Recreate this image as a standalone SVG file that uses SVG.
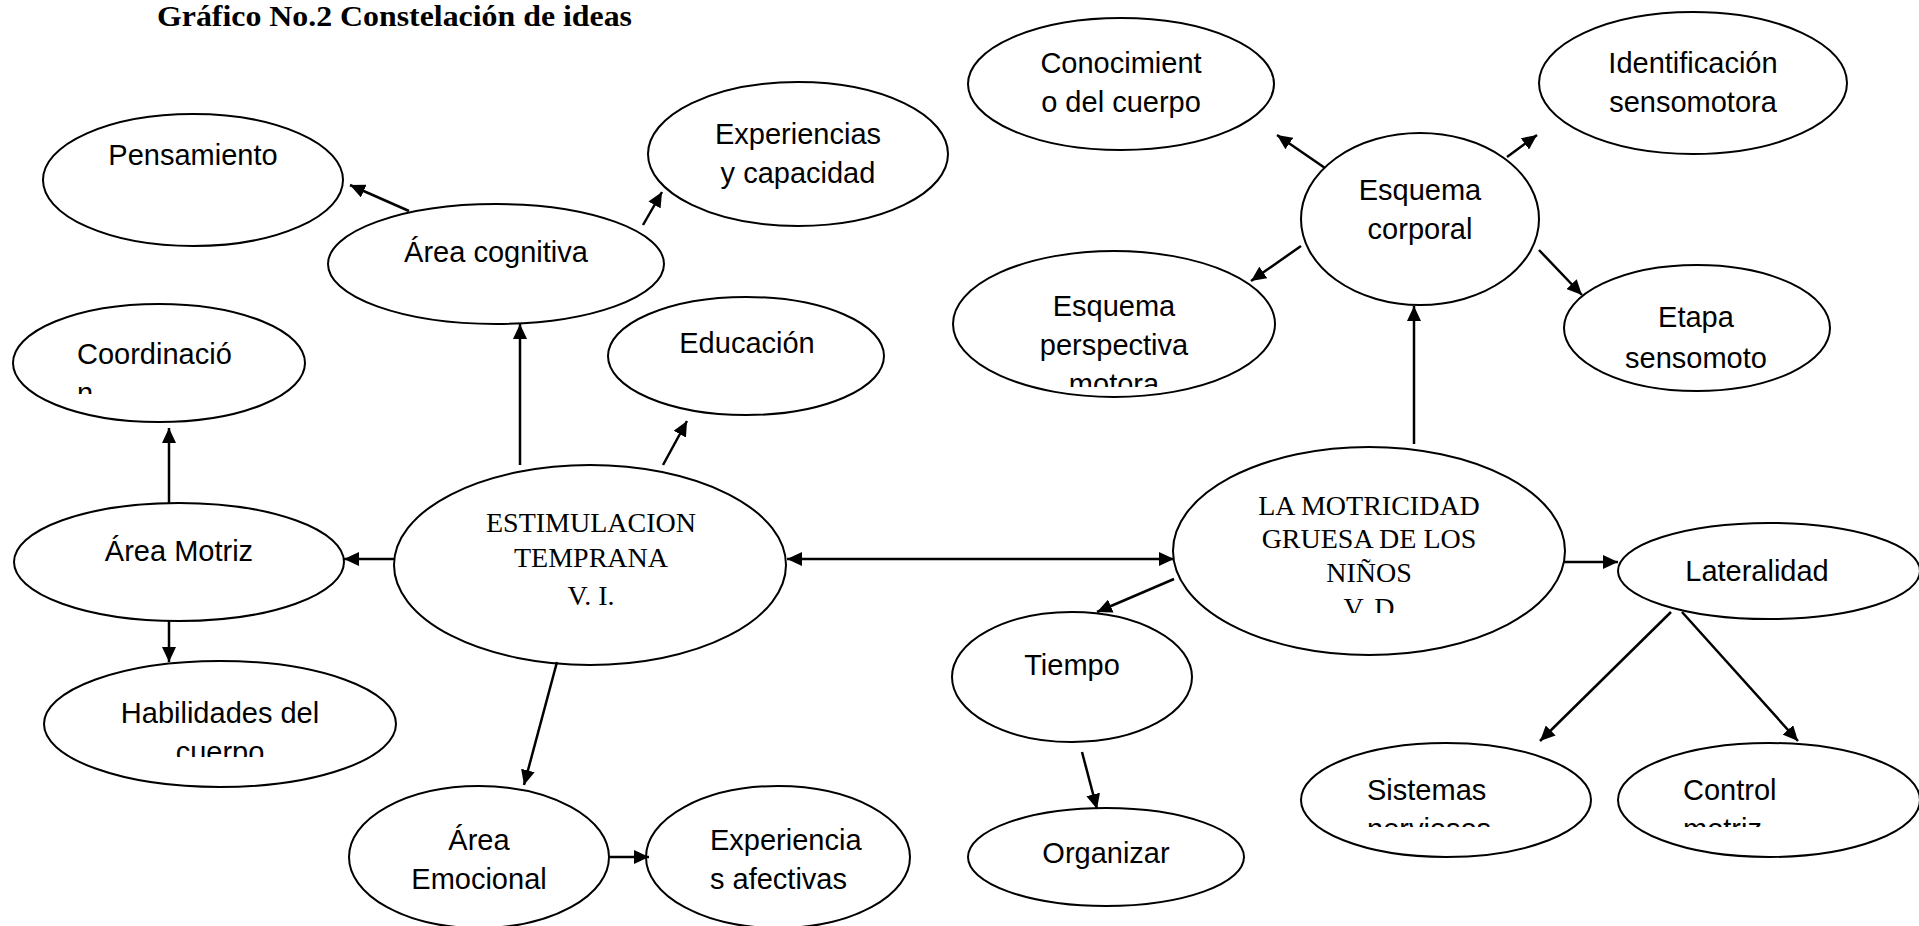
<svg xmlns="http://www.w3.org/2000/svg" width="1919" height="926" viewBox="0 0 1919 926">
<defs>
<style>
.n ellipse{fill:#fff;stroke:#000;stroke-width:2}
.t{font-family:"Liberation Sans",Arial,sans-serif;font-size:29px;fill:#000;text-anchor:middle}
.l{text-anchor:start}
.s{font-family:"Liberation Serif","Times New Roman",serif;font-size:28px;fill:#000;text-anchor:middle}
.c line{stroke:#000;stroke-width:2.5;marker-end:url(#ah)}
</style>
<marker id="ah" markerUnits="userSpaceOnUse" markerWidth="16" markerHeight="14" refX="15" refY="7" orient="auto-start-reverse"><path d="M0,0 L15,7 L0,14 z" fill="#000"/></marker>
<clipPath id="cp1"><rect x="0" y="0" width="400" height="394"/></clipPath>
<clipPath id="cp2"><rect x="0" y="0" width="500" height="757"/></clipPath>
<clipPath id="cp3"><rect x="900" y="0" width="400" height="387"/></clipPath>
<clipPath id="cp4"><rect x="1100" y="0" width="500" height="613"/></clipPath>
<clipPath id="cp5"><rect x="1300" y="0" width="619" height="827"/></clipPath>
</defs>
<rect width="1919" height="926" fill="#fff"/>
<text x="157" y="26" font-family="'Liberation Serif','Times New Roman',serif" font-size="30" font-weight="bold" textLength="475" lengthAdjust="spacingAndGlyphs">Gráfico No.2 Constelación de ideas</text>

<g id="pensamiento" class="n"><ellipse cx="193" cy="180" rx="150" ry="66"/><text class="t" x="193" y="165">Pensamiento</text></g>
<g id="experiencias" class="n"><ellipse cx="798" cy="154" rx="150" ry="72"/><text class="t" x="798" y="144">Experiencias</text><text class="t" x="798" y="183">y capacidad</text></g>
<g id="area-cognitiva" class="n"><ellipse cx="496" cy="264" rx="168" ry="60"/><text class="t" x="496" y="262">Área cognitiva</text></g>
<g id="educacion" class="n"><ellipse cx="746" cy="356" rx="138" ry="59"/><text class="t" x="747" y="353">Educación</text></g>
<g id="coordinacion" class="n"><ellipse cx="159" cy="363" rx="146" ry="59"/><text class="t l" x="77" y="364">Coordinació</text><text class="t l" x="77" y="403" clip-path="url(#cp1)">n</text></g>
<g id="area-motriz" class="n"><ellipse cx="179" cy="562" rx="165" ry="59"/><text class="t" x="179" y="561">Área Motriz</text></g>
<g id="habilidades" class="n"><ellipse cx="220" cy="724" rx="176" ry="63"/><text class="t" x="220" y="723">Habilidades del</text><text class="t" x="220" y="762" clip-path="url(#cp2)">cuerpo</text></g>
<g id="estimulacion" class="n"><ellipse cx="590" cy="565" rx="196" ry="100"/><text class="s" x="591" y="532">ESTIMULACION</text><text class="s" x="591" y="567">TEMPRANA</text><text class="s" x="591" y="605">V. I.</text></g>
<g id="area-emocional" class="n"><ellipse cx="479" cy="857" rx="130" ry="71"/><text class="t" x="479" y="850">Área</text><text class="t" x="479" y="889">Emocional</text></g>
<g id="experiencias-afectivas" class="n"><ellipse cx="778" cy="857" rx="132" ry="71"/><text class="t l" x="710" y="850">Experiencia</text><text class="t l" x="710" y="889">s afectivas</text></g>
<g id="conocimiento" class="n"><ellipse cx="1121" cy="84" rx="153" ry="66"/><text class="t" x="1121" y="73">Conocimient</text><text class="t" x="1121" y="112">o del cuerpo</text></g>
<g id="identificacion" class="n"><ellipse cx="1693" cy="83" rx="154" ry="71"/><text class="t" x="1693" y="73">Identificación</text><text class="t" x="1693" y="112">sensomotora</text></g>
<g id="esquema-corporal" class="n"><ellipse cx="1420" cy="219" rx="119" ry="86"/><text class="t" x="1420" y="200">Esquema</text><text class="t" x="1420" y="239">corporal</text></g>
<g id="esquema-perspectiva" class="n"><ellipse cx="1114" cy="324" rx="161" ry="73"/><text class="t" x="1114" y="316">Esquema</text><text class="t" x="1114" y="355">perspectiva</text><text class="t" x="1114" y="394" clip-path="url(#cp3)">motora</text></g>
<g id="etapa" class="n"><ellipse cx="1697" cy="328" rx="133" ry="63"/><text class="t" x="1696" y="327">Etapa</text><text class="t" x="1696" y="368">sensomoto</text></g>
<g id="motricidad" class="n"><ellipse cx="1369" cy="551" rx="196" ry="104"/><text class="s" x="1369" y="515">LA MOTRICIDAD</text><text class="s" x="1369" y="548">GRUESA DE LOS</text><text class="s" x="1369" y="582">NIÑOS</text><text class="s" x="1369" y="617" clip-path="url(#cp4)">V. D</text></g>
<g id="lateralidad" class="n"><ellipse cx="1769" cy="571" rx="151" ry="48"/><text class="t" x="1757" y="581">Lateralidad</text></g>
<g id="tiempo" class="n"><ellipse cx="1072" cy="677" rx="120" ry="65"/><text class="t" x="1072" y="675">Tiempo</text></g>
<g id="organizar" class="n"><ellipse cx="1106" cy="857" rx="138" ry="49"/><text class="t" x="1106" y="863">Organizar</text></g>
<g id="sistemas" class="n"><ellipse cx="1446" cy="800" rx="145" ry="57"/><text class="t l" x="1367" y="800">Sistemas</text><text class="t l" x="1367" y="839" clip-path="url(#cp5)">nerviosos</text></g>
<g id="control" class="n"><ellipse cx="1769" cy="800" rx="151" ry="57"/><text class="t l" x="1683" y="800">Control</text><text class="t l" x="1683" y="839" clip-path="url(#cp5)">motriz</text></g>

<g id="connectors" class="c">
<line x1="409" y1="211" x2="350" y2="185"/>
<line x1="643" y1="225" x2="662" y2="192"/>
<line x1="520" y1="465" x2="520" y2="324"/>
<line x1="663" y1="465" x2="687" y2="421"/>
<line x1="395" y1="559" x2="344" y2="559"/>
<line x1="169" y1="503" x2="169" y2="428"/>
<line x1="169" y1="620" x2="169" y2="662"/>
<line x1="557" y1="662" x2="524" y2="785"/>
<line x1="608" y1="857" x2="649" y2="857"/>
<line x1="787" y1="559" x2="1174" y2="559" style="marker-start:url(#ah)"/>
<line x1="1414" y1="444" x2="1414" y2="306"/>
<line x1="1325" y1="168" x2="1277" y2="135"/>
<line x1="1507" y1="157" x2="1537" y2="135"/>
<line x1="1301" y1="246" x2="1251" y2="281"/>
<line x1="1539" y1="250" x2="1582" y2="295"/>
<line x1="1174" y1="579" x2="1097" y2="612"/>
<line x1="1082" y1="752" x2="1097" y2="809"/>
<line x1="1564" y1="562" x2="1618" y2="562"/>
<line x1="1671" y1="612" x2="1540" y2="741"/>
<line x1="1682" y1="612" x2="1798" y2="741"/>
</g>
</svg>
